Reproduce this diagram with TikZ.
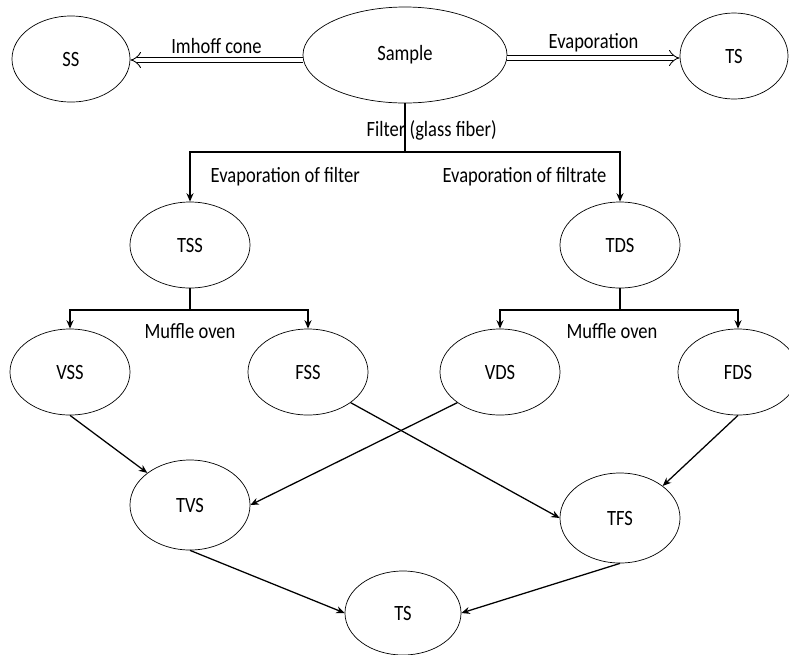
\documentclass[tikz,border=0pt]{standalone}
\usepackage{fontspec}
\setmainfont{Carlito}[FakeStretch=0.85]
\usetikzlibrary{shapes.geometric,arrows.meta}

\tikzset{
  solid_n/.style = {ellipse, draw=black, line width=0.5pt, inner sep=0pt,
    minimum width=3cm, minimum height=2.15cm},% noeud solides
  flow/.style = {-{Stealth[length=6pt,width=5pt]}, line width=0.9pt},% fleche simple
  hollow/.style = {double, double distance=3.5pt, line width=0.6pt,
    -{Implies}},% fleche creuse
  lbl/.style = {inner sep=1pt}
}

\begin{document}
\begin{tikzpicture}[x=0.025cm, y=-0.025cm, font=\fontsize{15.5}{18}\selectfont]
  \useasboundingbox (0,0) rectangle (789,654);
  % niveau 0
  \node [solid_n, minimum width=5.1cm, minimum height=2.4cm] (sample) at (405,55) {Sample};
  \node [solid_n, minimum width=2.95cm] (ss) at (71,59) {SS};
  \node [solid_n, minimum width=2.7cm] (ts1) at (734,56) {TS};
  % niveau 1
  \node [solid_n] (tss) at (190,245) {TSS};
  \node [solid_n] (tds) at (620,245) {TDS};
  % niveau 2
  \node [solid_n] (vss) at (70,372) {VSS};
  \node [solid_n] (fss) at (308,372) {FSS};
  \node [solid_n] (vds) at (500,372) {VDS};
  \node [solid_n] (fds) at (738,372) {FDS};
  % niveau 3
  \node [solid_n, minimum height=2.25cm] (tvs) at (190,505) {TVS};
  \node [solid_n, minimum height=2.25cm] (tfs) at (620,518) {TFS};
  \node [solid_n, minimum width=2.9cm, minimum height=2.1cm] (ts2) at (403,613) {TS};

  % fleches creuses
  \draw [hollow] (sample.west |- 0,60) -- (ss.east |- 0,60)
    node [lbl, midway, above=3pt] {Imhoff cone};
  \draw [hollow] (sample.east |- 0,58) -- (ts1.west |- 0,58)
    node [lbl, midway, above=3pt] {Evaporation};

  % filtre
  \coordinate (fsplit) at (405,152);
  \draw [line width=0.9pt] (sample.south) -- (fsplit);
  \node [lbl, anchor=west] (filt) at (365,130) {Filter (glass fiber)};
  \draw [flow] (fsplit) -| (tss.north);
  \draw [flow] (fsplit) -| (tds.north);
  \node [lbl, anchor=west] (evf) at (209,177) {Evaporation of filter};
  \node [lbl, anchor=east] (evft) at (608,177) {Evaporation of filtrate};

  % four a moufle
  \coordinate (lsplit) at (190,310);
  \coordinate (rsplit) at (620,310);
  \draw [line width=0.9pt] (tss.south) -- (lsplit);
  \draw [line width=0.9pt] (tds.south) -- (rsplit);
  \draw [flow] (lsplit) -| (vss.north);
  \draw [flow] (lsplit) -| (fss.north);
  \draw [flow] (rsplit) -| (vds.north);
  \draw [flow] (rsplit) -| (fds.north);
  \node [lbl] (mo1) at (190,331) {Muffle oven};
  \node [lbl] (mo2) at (612,331) {Muffle oven};

  % croisement
  \draw [flow] (vss.south) -- (tvs.north west);
  \draw [flow] (fss.south east) -- (tfs.west);
  \draw [flow] (vds.south west) -- (tvs.east);
  \draw [flow] (fds.south) -- (tfs.north east);
  \draw [flow] (tvs.south) -- (ts2.west);
  \draw [flow] (tfs.south) -- (ts2.east);
\end{tikzpicture}
\end{document}
